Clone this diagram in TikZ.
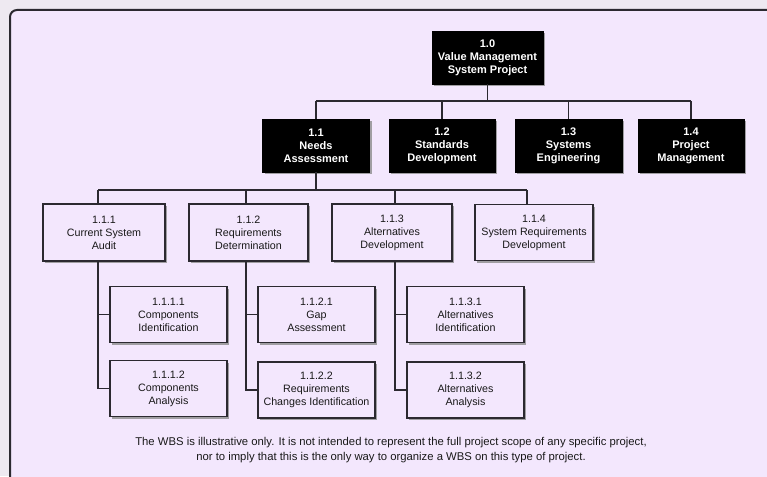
\documentclass[tikz,border=0pt]{standalone}
\usepackage{fontspec}
\setmainfont{Liberation Sans}
\usetikzlibrary{shadows}
\definecolor{pagebg}{HTML}{EEE9F1}
\definecolor{panelbg}{HTML}{F3E7FD}
\definecolor{inkline}{HTML}{2B2930}
\begin{document}
\begin{tikzpicture}[x=1pt,y=-1pt,
  boxshadow/.style={drop shadow={shadow xshift=2.2pt,shadow yshift=-2.2pt,fill=black!45,opacity=0.8}},
  darkbox/.style={draw=black,fill=black,text=white,line width=0.8pt,boxshadow,
    inner sep=0pt,align=center,minimum height=53pt,
    font=\fontsize{11}{13}\selectfont\bfseries},
  lightbox/.style={draw=inkline,fill=panelbg,text=black!90,line width=1.1pt,boxshadow,
    inner sep=0pt,align=center,minimum height=56pt,
    font=\fontsize{10.7}{13}\selectfont},
  wire/.style={draw=inkline,line width=1.3pt}]
  % canvas and rounded panel
  \useasboundingbox (0,0) rectangle (767,476);
  \fill[pagebg] (0,0) rectangle (767,476);
  \draw[fill=panelbg,draw=inkline,line width=2pt,rounded corners=7pt] (10,10) rectangle (790,500);

  % top level
  \node[darkbox,minimum width=111pt] (n10) at (487.5,57.5) {1.0\\Value Management\\System Project};

  % second level
  \node[darkbox,minimum width=107pt] (n11) at (316,145.5) {1.1\\Needs\\Assessment};
  \node[darkbox,minimum width=106pt] (n12) at (442,145.5) {1.2\\Standards\\Development};
  \node[darkbox,minimum width=107pt] (n13) at (568.5,145.5) {1.3\\Systems\\Engineering};
  \node[darkbox,minimum width=106pt] (n14) at (691,145.5) {1.4\\Project\\Management};

  % third level
  \node[lightbox,minimum width=122pt,minimum height=57pt] (n111) at (104,232.5) {1.1.1\\Current System\\Audit};
  \node[lightbox,minimum width=119pt,minimum height=57pt] (n112) at (248.5,232.5) {1.1.2\\Requirements\\Determination};
  \node[lightbox,minimum width=120pt,minimum height=57pt] (n113) at (392,232.5) {1.1.3\\Alternatives\\Development};
  \node[lightbox,minimum width=118pt,minimum height=56pt] (n114) at (534,232.5) {1.1.4\\System Requirements\\Development};

  % fourth level
  \node[lightbox,minimum width=117pt] (n1111) at (168.5,314.5) {1.1.1.1\\Components\\Identification};
  \node[lightbox,minimum width=117pt] (n1112) at (168.5,388.5) {1.1.1.2\\Components\\Analysis};
  \node[lightbox,minimum width=117pt] (n1121) at (316.5,314.5) {1.1.2.1\\Gap\\Assessment};
  \node[lightbox,minimum width=117pt] (n1122) at (316.5,390) {1.1.2.2\\Requirements\\Changes Identification};
  \node[lightbox,minimum width=117pt] (n1131) at (465.5,314.5) {1.1.3.1\\Alternatives\\Identification};
  \node[lightbox,minimum width=117pt] (n1132) at (465.5,390) {1.1.3.2\\Alternatives\\Analysis};

  % bus rails
  \coordinate (rail2) at (0,101);
  \coordinate (t1) at (98,190);
  \coordinate (t2) at (246,190);
  \coordinate (t3) at (395,190);
  \coordinate (t4) at (527,190);

  % connectors: level 1 to level 2
  \draw[wire] (n10.south) -- (n10.south |- rail2);
  \draw[wire] (n11.north |- rail2) -- (n14.north |- rail2);
  \foreach \n in {n11,n12,n13,n14} \draw[wire] (\n.north |- rail2) -- (\n.north);

  % connectors: 1.1 to level 3
  \draw[wire] (n11.south) -- (n11.south |- t1);
  \draw[wire] (t1) -- (t4);
  \draw[wire] (t1) -- (t1 |- n111.north);
  \draw[wire] (t2) -- (t2 |- n112.north);
  \draw[wire] (t3) -- (t3 |- n113.north);
  \draw[wire] (t4) -- (t4 |- n114.north);

  % connectors: level 3 to level 4
  \draw[wire] (t1 |- n111.south) -- (t1 |- n1112.west) -- (n1112.west);
  \draw[wire] (t1 |- n1111.west) -- (n1111.west);
  \draw[wire] (t2 |- n112.south) -- (t2 |- n1122.west) -- (n1122.west);
  \draw[wire] (t2 |- n1121.west) -- (n1121.west);
  \draw[wire] (t3 |- n113.south) -- (t3 |- n1132.west) -- (n1132.west);
  \draw[wire] (t3 |- n1131.west) -- (n1131.west);

  % note
  \node[align=center,text=black!90,font=\fontsize{11.3}{14.5}\selectfont] (note) at (391,450)
    {The WBS is illustrative only. It is not intended to represent the full project scope of any specific project,\\
     nor to imply that this is the only way to organize a WBS on this type of project.};
\end{tikzpicture}
\end{document}
